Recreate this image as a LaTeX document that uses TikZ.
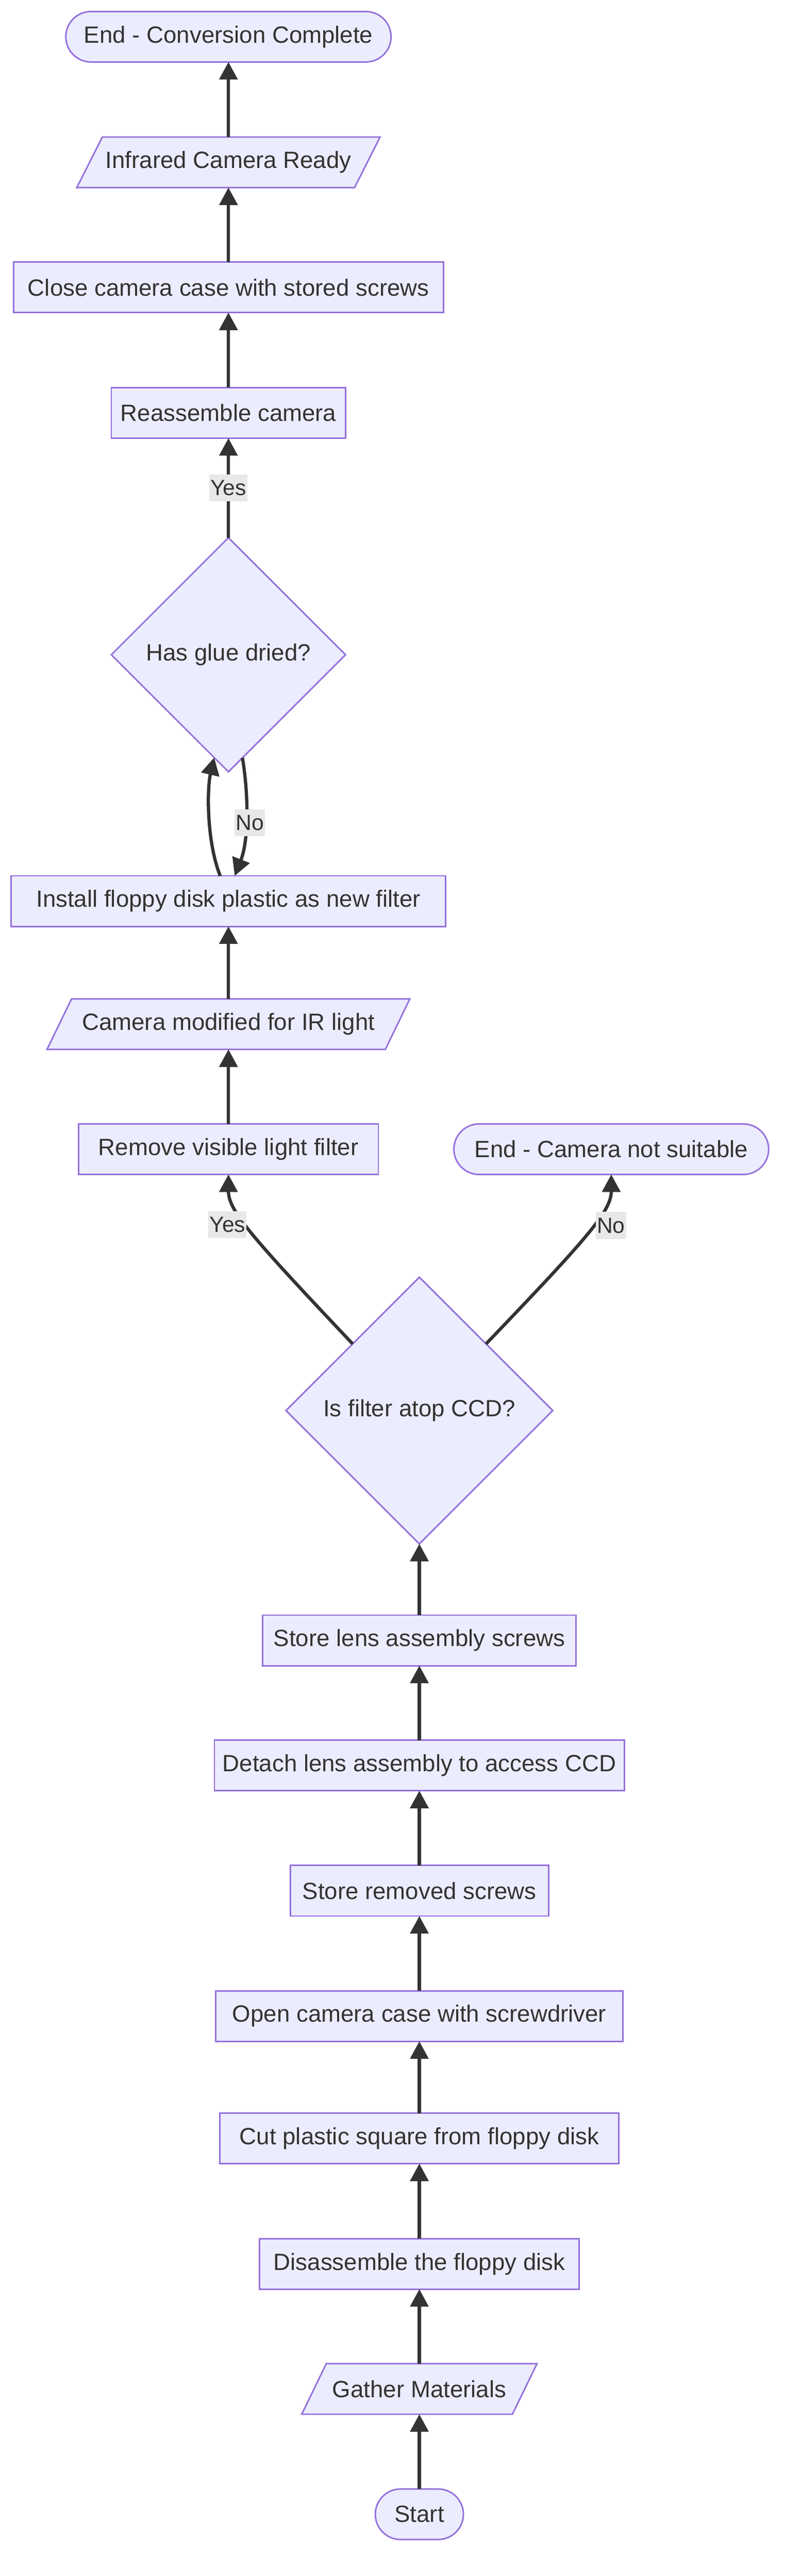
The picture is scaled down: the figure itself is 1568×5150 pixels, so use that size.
\documentclass[tikz,border=0pt]{standalone}
\usepackage{fontspec}
\setmainfont{Liberation Sans}
\usetikzlibrary{arrows.meta,shapes.geometric,backgrounds}
\definecolor{nodefill}{HTML}{ECECFF}
\definecolor{nodeline}{HTML}{9370DB}
\definecolor{edgecol}{HTML}{333333}
\definecolor{lblfill}{HTML}{E8E8E8}
\definecolor{txtcol}{HTML}{333333}
\begin{document}
\begin{tikzpicture}[x=1pt,y=-1pt,
  base/.style={inner sep=0pt, outer sep=0pt, minimum height=101pt, text=txtcol, font=\fontsize{47}{56}\selectfont},
  procbox/.style={base, draw=nodeline, fill=nodefill, line width=3pt, rectangle},
  termbox/.style={procbox, rounded corners=50.5pt},
  iobox/.style={base, rectangle},
  iofill/.style={draw=nodeline, fill=nodefill, line width=3pt},
  decbox/.style={base, draw=nodeline, fill=nodefill, line width=3pt, diamond, aspect=1},
  flow/.style={draw=edgecol, line width=6.5pt, -{Triangle[length=35pt,width=36pt]}},
  lbl/.style={fill=lblfill, text=txtcol, inner xsep=2pt, inner ysep=0pt, minimum height=54pt, font=\fontsize{44}{52}\selectfont}
]
\useasboundingbox (0,0) rectangle (1568,5150);

% left column
\node[termbox, minimum width=650pt] (endok) at (456.5,73.5) {End - Conversion Complete};
\node[iobox, minimum width=555pt] (ready) at (456.5,324.5) {Infrared Camera Ready};
\node[procbox, minimum width=859pt] (close) at (456.5,574.5) {Close camera case with stored screws};
\node[procbox, minimum width=468pt] (reasm) at (456.5,825.5) {Reassemble camera};
\node[decbox, minimum width=468pt, minimum height=468pt] (glue) at (456.5,1309) {Has glue dried?};
\node[procbox, minimum width=868pt] (install) at (456.5,1801.5) {Install floppy disk plastic as new filter};
\node[iobox, minimum width=676pt] (irmod) at (456.5,2047.5) {Camera modified for IR light};
\node[procbox, minimum width=599pt] (remove) at (456.5,2297.5) {Remove visible light filter};
\node[termbox, minimum width=629pt] (endno) at (1221.5,2297.5) {End - Camera not suitable};

% right column
\node[decbox, minimum width=533pt, minimum height=533pt] (ccd) at (838,2820) {Is filter atop CCD?};
\node[procbox, minimum width=626pt] (storelens) at (838,3279.5) {Store lens assembly screws};
\node[procbox, minimum width=819pt] (detach) at (838,3529.5) {Detach lens assembly to access CCD};
\node[procbox, minimum width=516pt] (storerem) at (838,3780) {Store removed screws};
\node[procbox, minimum width=814pt] (open) at (838,4030.5) {Open camera case with screwdriver};
\node[procbox, minimum width=797pt] (cut) at (838,4275) {Cut plastic square from floppy disk};
\node[procbox, minimum width=639pt] (disasm) at (838,4526) {Disassemble the floppy disk};
\node[iobox, minimum width=421pt] (gather) at (838,4776) {Gather Materials};
\node[termbox, minimum width=176pt] (start) at (838,5026.5) {Start};

% parallelogram outlines
\begin{scope}[on background layer]
\path[iofill] ([xshift=25.5pt]ready.north west) -- ([xshift=25.5pt]ready.north east) -- ([xshift=-25.5pt]ready.south east) -- ([xshift=-25.5pt]ready.south west) -- cycle;
\path[iofill] ([xshift=24.5pt]irmod.north west) -- ([xshift=24.5pt]irmod.north east) -- ([xshift=-24.5pt]irmod.south east) -- ([xshift=-24.5pt]irmod.south west) -- cycle;
\path[iofill] ([xshift=24.5pt]gather.north west) -- ([xshift=24.5pt]gather.north east) -- ([xshift=-24.5pt]gather.south east) -- ([xshift=-24.5pt]gather.south west) -- cycle;
\end{scope}

% straight connectors
\draw[flow] (start.north) -- (gather.south);
\draw[flow] (gather.north) -- (disasm.south);
\draw[flow] (disasm.north) -- (cut.south);
\draw[flow] (cut.north) -- (open.south);
\draw[flow] (open.north) -- (storerem.south);
\draw[flow] (storerem.north) -- (detach.south);
\draw[flow] (detach.north) -- (storelens.south);
\draw[flow] (storelens.north) -- (ccd.south);
\draw[flow] (remove.north) -- (irmod.south);
\draw[flow] (irmod.north) -- (install.south);
\draw[flow] (glue.north) -- node[lbl] (yesglue) {Yes} (reasm.south);
\draw[flow] (reasm.north) -- (close.south);
\draw[flow] (close.north) -- (ready.south);
\draw[flow] (ready.north) -- (endok.south);

% curved connectors
\draw[flow] (ccd.north west) .. controls (500,2470) and (456.5,2420) .. (remove.south);
\draw[flow] (ccd.north east) .. controls (1179,2470) and (1221.5,2420) .. (endno.south);
\draw[flow] ([xshift=-16.5pt]install.north) .. controls (412,1680) and (414,1575) .. ([xshift=-28.5pt,yshift=28.5pt]glue.south);
\draw[flow] ([xshift=28pt,yshift=28pt]glue.south) .. controls (497,1590) and (497,1680) .. ([xshift=12.5pt]install.north);

% edge labels
\node[lbl] (yesccd) at (454.5,2448) {Yes};
\node[lbl] (noccd) at (1221,2450) {No};
\node[lbl] (noglue) at (499,1645) {No};
\end{tikzpicture}
\end{document}
